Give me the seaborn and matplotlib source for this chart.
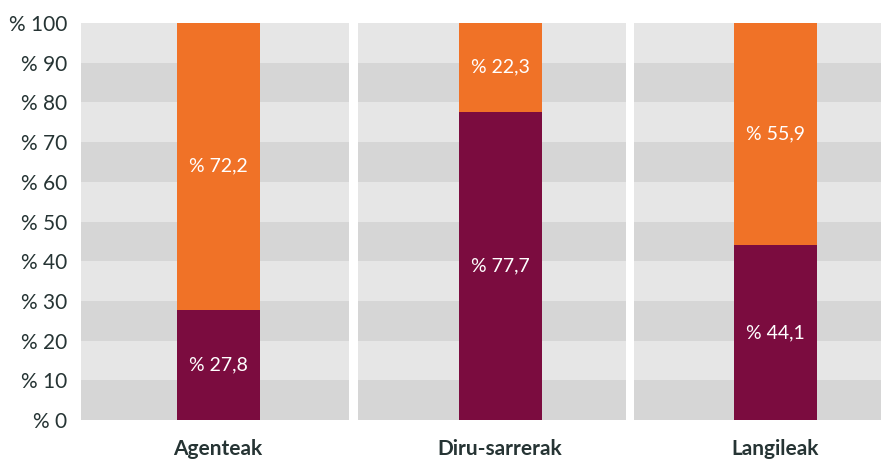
import matplotlib
matplotlib.use("Agg")
import matplotlib.pyplot as plt
import seaborn as sns
import pandas as pd

categories = ["Agenteak", "Diru-sarrerak", "Langileak"]
purple_vals = [27.8, 77.7, 44.1]
orange_vals = [72.2, 22.3, 55.9]
purple_labels = ["% 27,8", "% 77,7", "% 44,1"]
orange_labels = ["% 72,2", "% 22,3", "% 55,9"]
y_ticks = list(range(0, 101, 10))
y_ticklabels = [f"% {t}" for t in y_ticks]

PURPLE = "#7b0c3f"
ORANGE = "#f07227"
BAND_LIGHT = "#e6e6e6"
BAND_DARK = "#d6d6d6"
TEXT = "#263434"

sns.set_theme(style="white")
plt.rcParams["font.family"] = ["Lato", "DejaVu Sans"]
plt.rcParams["axes.grid"] = False

W, H = 881, 465
fig = plt.figure(figsize=(W / 100, H / 100), dpi=100)

panel_left = [81, 358, 634]
panel_w = 268
plot_bottom, plot_top = 420, 23
bar_px = 83
bar_center_px = [137, 142, 141]

for i, cat in enumerate(categories):
    ax = fig.add_axes([panel_left[i] / W, (H - plot_bottom) / H,
                       panel_w / W, (plot_bottom - plot_top) / H])
    ax.set_facecolor(BAND_LIGHT)
    # darker grey bands on 0-10, 20-30, ... (light ones are the background)
    for lo in range(0, 100, 20):
        ax.axhspan(lo, lo + 10, facecolor=BAND_DARK, edgecolor="none", lw=0, zorder=0)
    df = pd.DataFrame({"cat": [cat],
                       "total": [purple_vals[i] + orange_vals[i]],
                       "purple": [purple_vals[i]]})
    bw = 0.4
    sns.barplot(data=df, x="cat", y="total", color=ORANGE, width=bw,
                saturation=1, linewidth=0, ax=ax, zorder=2)
    sns.barplot(data=df, x="cat", y="purple", color=PURPLE, width=bw,
                saturation=1, linewidth=0, ax=ax, zorder=3)
    unit = bw / bar_px
    ax.set_xlim(-bar_center_px[i] * unit, (panel_w - bar_center_px[i]) * unit)
    ax.set_ylim(0, 100)
    ax.grid(False)
    ax.text(0, purple_vals[i] / 2, purple_labels[i], ha="center", va="center",
            color="white", fontsize=14, zorder=5)
    ax.text(0, purple_vals[i] + orange_vals[i] / 2, orange_labels[i], ha="center",
            va="center", color="white", fontsize=14, zorder=5)
    ax.set_xlabel("")
    ax.set_ylabel("")
    ax.set_xticks([0])
    ax.set_xticklabels([cat], fontsize=15, color=TEXT, fontweight="bold")
    ax.tick_params(axis="x", length=0, pad=14)
    if i == 0:
        ax.set_yticks(y_ticks)
        ax.set_yticklabels(y_ticklabels, fontsize=15, color=TEXT)
        ax.tick_params(axis="y", length=0, pad=10)
    else:
        ax.set_yticks([])
    for s in ax.spines.values():
        s.set_visible(False)

fig.savefig("out.png", dpi=100)
